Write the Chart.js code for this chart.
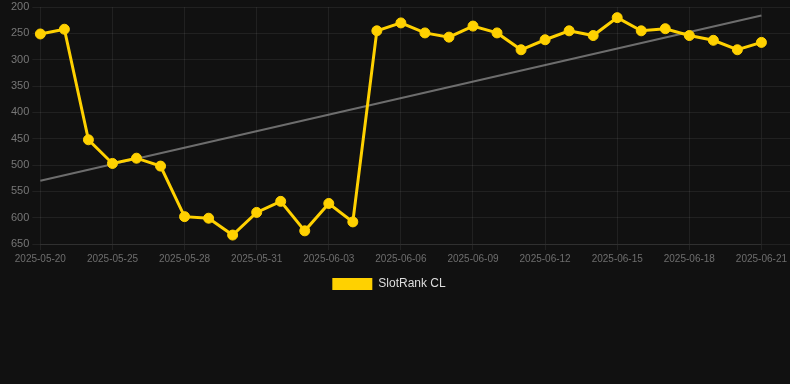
<!DOCTYPE html>
<html>
<head>
<meta charset="utf-8">
<script src="https://cdn.jsdelivr.net/npm/chart.js@4"></script>
<style>
  html, body { margin: 0; padding: 0; background: #111111; }
  #wrap { width: 790px; height: 300px; position: relative; }
</style>
</head>
<body>
<div id="wrap"><canvas id="c"></canvas></div>
<script>
const categories = [
  '2025-05-20','2025-05-22','2025-05-24','2025-05-25','2025-05-26','2025-05-27',
  '2025-05-28','2025-05-29','2025-05-30','2025-05-31','2025-06-01','2025-06-02',
  '2025-06-03','2025-06-04','2025-06-05','2025-06-06','2025-06-07','2025-06-08',
  '2025-06-09','2025-06-10','2025-06-11','2025-06-12','2025-06-13','2025-06-14',
  '2025-06-15','2025-06-16','2025-06-17','2025-06-18','2025-06-19','2025-06-20',
  '2025-06-21'
];
const rankValues = [
  251, 242, 452, 497, 487, 502, 598, 601, 633, 590, 569, 625, 573, 608, 245, 230,
  249, 257, 236, 249, 281, 262, 245, 254, 220, 245, 241, 254, 263, 281, 267
];
const trendStart = 530;
const trendEnd = 216;
const yTicks = { min: 200, max: 650, step: 50 };
const seriesName = 'SlotRank CL';

const gridColor = 'rgba(255,255,255,0.07)';

const extendGrid = {
  id: 'extendGrid',
  beforeDatasetsDraw(chart) {
    const { ctx, chartArea } = chart;
    const y = chart.scales.y;
    ctx.save();
    ctx.strokeStyle = gridColor;
    ctx.lineWidth = 1;
    y.ticks.forEach(t => {
      const py = Math.round(y.getPixelForValue(t.value) - 0.5) + 0.5;
      ctx.beginPath();
      ctx.moveTo(chartArea.right + 0.5, py);
      ctx.lineTo(chart.width, py);
      ctx.stroke();
    });
    ctx.restore();
  }
};

const shiftLegend = {
  id: 'shiftLegend',
  afterLayout(chart) {
    if (chart.legend) { chart.legend.left -= 8; chart.legend.right -= 8; }
  }
};

new Chart(document.getElementById('c'), {
  type: 'line',
  data: {
    labels: categories,
    datasets: [
      {
        label: seriesName,
        data: rankValues,
        borderColor: '#ffd100',
        backgroundColor: '#ffd100',
        borderWidth: 3,
        pointRadius: 5,
        pointHoverRadius: 5,
        pointBackgroundColor: '#ffd100',
        pointBorderColor: '#ffd100',
        pointBorderWidth: 1,
        tension: 0,
        order: 1
      },
      {
        label: 'trend',
        data: [
          { x: categories[0], y: trendStart },
          { x: categories[categories.length - 1], y: trendEnd }
        ],
        borderColor: 'rgba(140,140,140,0.75)',
        borderWidth: 2,
        pointRadius: 0,
        fill: false,
        order: 2
      }
    ]
  },
  options: {
    responsive: true,
    maintainAspectRatio: false,
    animation: false,
    layout: { padding: { left: 8, right: 4, top: 0, bottom: 0 } },
    scales: {
      x: {
        type: 'category',
        offset: false,
        grid: { color: gridColor, tickLength: 6 },
        border: { color: gridColor },
        ticks: {
          autoSkip: false,
          maxRotation: 0,
          color: '#6e6e6e',
          font: { family: 'Liberation Sans, Arial, sans-serif', size: 10 },
          callback: function(v, i) { return i % 3 === 0 ? categories[i] : null; }
        }
      },
      y: {
        reverse: true,
        min: yTicks.min,
        max: yTicks.max,
        grid: { color: gridColor, tickLength: 8 },
        border: { display: false },
        ticks: {
          stepSize: yTicks.step,
          color: '#777777',
          padding: 3,
          font: { family: 'Liberation Sans, Arial, sans-serif', size: 11, lineHeight: 0.75 }
        }
      }
    },
    plugins: {
      legend: {
        position: 'bottom',
        labels: {
          boxWidth: 40,
          boxHeight: 12,
          color: '#dddddd',
          padding: 10,
          font: { family: 'Liberation Sans, Arial, sans-serif', size: 12 },
          filter: item => item.datasetIndex === 0,
          generateLabels: chart => Chart.defaults.plugins.legend.labels.generateLabels(chart)
            .map(l => Object.assign(l, { lineWidth: 0 }))
        }
      },
      tooltip: { enabled: false }
    }
  },
  plugins: [extendGrid, shiftLegend]
});
</script>
</body>
</html>
